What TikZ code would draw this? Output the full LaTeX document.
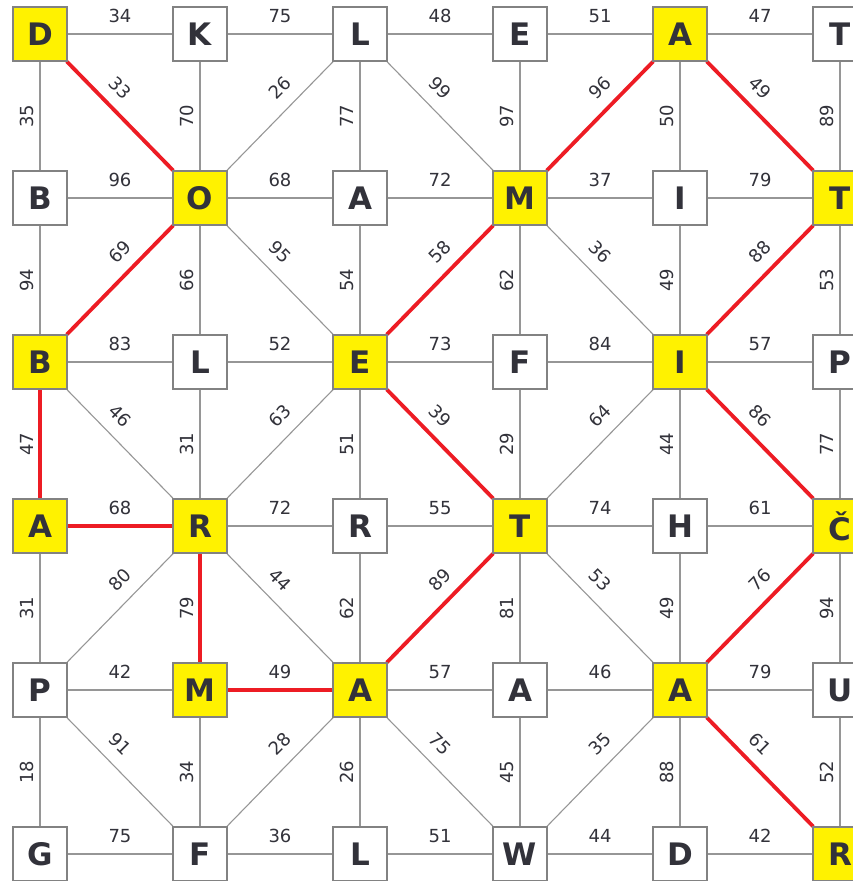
\documentclass[tikz,border=0pt]{standalone}
\usepackage{fontspec}
\setmainfont{DejaVu Sans}
\usetikzlibrary{backgrounds}
\definecolor{pathred}{RGB}{237,28,36}
\definecolor{hityellow}{RGB}{255,242,0}
\definecolor{gridgray}{RGB}{150,150,150}
\definecolor{boxgray}{RGB}{130,130,130}
\definecolor{inkgray}{RGB}{50,50,58}

\begin{document}
\begin{tikzpicture}[
    x=1pt, y=-1pt,
    letter/.style={rectangle, draw=boxgray, line width=1.2pt, fill=white, minimum size=54pt, inner sep=0pt, text=inkgray, font=\fontsize{31}{31}\selectfont\bfseries},
    hit/.style={letter, fill=hityellow},
    edge/.style={-, draw=gridgray, line width=1.1pt},
    path_edge/.style={-, draw=pathred, line width=3.8pt, line cap=round},
    wlab/.style={text=inkgray, font=\fontsize{18}{18}\selectfont, inner sep=0pt},
    hlab/.style={wlab, yshift=18pt},
    vlab/.style={wlab, xshift=-13pt, rotate=90},
    dlab/.style={wlab, yshift=28pt, rotate=-45},
    ulab/.style={wlab, yshift=28pt, rotate=45},
]
\useasboundingbox (0,0) rectangle (852,881);

% Row 1
\node[hit]    (n11) at (40,34)  {D};
\node[letter] (n12) at (200,34) {K};
\node[letter] (n13) at (360,34) {L};
\node[letter] (n14) at (520,34) {E};
\node[hit]    (n15) at (680,34) {A};
\node[letter] (n16) at (840,34) {T};

% Row 2
\node[letter] (n21) at (40,198)  {B};
\node[hit]    (n22) at (200,198) {O};
\node[letter] (n23) at (360,198) {A};
\node[hit]    (n24) at (520,198) {M};
\node[letter] (n25) at (680,198) {I};
\node[hit]    (n26) at (840,198) {T};

% Row 3
\node[hit]    (n31) at (40,362)  {B};
\node[letter] (n32) at (200,362) {L};
\node[hit]    (n33) at (360,362) {E};
\node[letter] (n34) at (520,362) {F};
\node[hit]    (n35) at (680,362) {I};
\node[letter] (n36) at (840,362) {P};

% Row 4
\node[hit]    (n41) at (40,526)  {A};
\node[hit]    (n42) at (200,526) {R};
\node[letter] (n43) at (360,526) {R};
\node[hit]    (n44) at (520,526) {T};
\node[letter] (n45) at (680,526) {H};
\node[hit]    (n46) at (840,526) {Č};

% Row 5
\node[letter] (n51) at (40,690)  {P};
\node[hit]    (n52) at (200,690) {M};
\node[hit]    (n53) at (360,690) {A};
\node[letter] (n54) at (520,690) {A};
\node[hit]    (n55) at (680,690) {A};
\node[letter] (n56) at (840,690) {U};

% Row 6
\node[letter] (n61) at (40,854)  {G};
\node[letter] (n62) at (200,854) {F};
\node[letter] (n63) at (360,854) {L};
\node[letter] (n64) at (520,854) {W};
\node[letter] (n65) at (680,854) {D};
\node[hit]    (n66) at (840,854) {R};

\begin{scope}[on background layer]
% Horizontal weights
\draw[edge] (n11) -- node[hlab]{34} (n12) -- node[hlab]{75} (n13) -- node[hlab]{48} (n14) -- node[hlab]{51} (n15) -- node[hlab]{47} (n16);
\draw[edge] (n21) -- node[hlab]{96} (n22) -- node[hlab]{68} (n23) -- node[hlab]{72} (n24) -- node[hlab]{37} (n25) -- node[hlab]{79} (n26);
\draw[edge] (n31) -- node[hlab]{83} (n32) -- node[hlab]{52} (n33) -- node[hlab]{73} (n34) -- node[hlab]{84} (n35) -- node[hlab]{57} (n36);
\draw[path_edge] (n41) -- node[hlab]{68} (n42);
\draw[edge] (n42) -- node[hlab]{72} (n43) -- node[hlab]{55} (n44) -- node[hlab]{74} (n45) -- node[hlab]{61} (n46);
\draw[edge] (n51) -- node[hlab]{42} (n52);
\draw[path_edge] (n52) -- node[hlab]{49} (n53);
\draw[edge] (n53) -- node[hlab]{57} (n54) -- node[hlab]{46} (n55) -- node[hlab]{79} (n56);
\draw[edge] (n61) -- node[hlab]{75} (n62) -- node[hlab]{36} (n63) -- node[hlab]{51} (n64) -- node[hlab]{44} (n65) -- node[hlab]{42} (n66);

% Vertical weights
\draw[edge] (n11) -- node[vlab]{35} (n21) -- node[vlab]{94} (n31);
\draw[path_edge] (n31) -- node[vlab]{47} (n41);
\draw[edge] (n41) -- node[vlab]{31} (n51) -- node[vlab]{18} (n61);
\draw[edge] (n12) -- node[vlab]{70} (n22) -- node[vlab]{66} (n32) -- node[vlab]{31} (n42);
\draw[path_edge] (n42) -- node[vlab]{79} (n52);
\draw[edge] (n52) -- node[vlab]{34} (n62);
\draw[edge] (n13) -- node[vlab]{77} (n23) -- node[vlab]{54} (n33) -- node[vlab]{51} (n43) -- node[vlab]{62} (n53) -- node[vlab]{26} (n63);
\draw[edge] (n14) -- node[vlab]{97} (n24) -- node[vlab]{62} (n34) -- node[vlab]{29} (n44) -- node[vlab]{81} (n54) -- node[vlab]{45} (n64);
\draw[edge] (n15) -- node[vlab]{50} (n25) -- node[vlab]{49} (n35) -- node[vlab]{44} (n45) -- node[vlab]{49} (n55) -- node[vlab]{88} (n65);
\draw[edge] (n16) -- node[vlab]{89} (n26) -- node[vlab]{53} (n36) -- node[vlab]{77} (n46) -- node[vlab]{94} (n56) -- node[vlab]{52} (n66);

% Diagonals, rows 1-2
\draw[path_edge] (n11) -- node[dlab]{33} (n22);
\draw[edge] (n22) -- node[ulab]{26} (n13);
\draw[edge] (n13) -- node[dlab]{99} (n24);
\draw[path_edge] (n24) -- node[ulab]{96} (n15);
\draw[path_edge] (n15) -- node[dlab]{49} (n26);

% Diagonals, rows 2-3
\draw[path_edge] (n31) -- node[ulab]{69} (n22);
\draw[edge] (n22) -- node[dlab]{95} (n33);
\draw[path_edge] (n33) -- node[ulab]{58} (n24);
\draw[edge] (n24) -- node[dlab]{36} (n35);
\draw[path_edge] (n35) -- node[ulab]{88} (n26);

% Diagonals, rows 3-4
\draw[edge] (n31) -- node[dlab]{46} (n42);
\draw[edge] (n42) -- node[ulab]{63} (n33);
\draw[path_edge] (n33) -- node[dlab]{39} (n44);
\draw[edge] (n44) -- node[ulab]{64} (n35);
\draw[path_edge] (n35) -- node[dlab]{86} (n46);

% Diagonals, rows 4-5
\draw[edge] (n51) -- node[ulab]{80} (n42);
\draw[edge] (n42) -- node[dlab]{44} (n53);
\draw[path_edge] (n53) -- node[ulab]{89} (n44);
\draw[edge] (n44) -- node[dlab]{53} (n55);
\draw[path_edge] (n55) -- node[ulab]{76} (n46);

% Diagonals, rows 5-6
\draw[edge] (n51) -- node[dlab]{91} (n62);
\draw[edge] (n62) -- node[ulab]{28} (n53);
\draw[edge] (n53) -- node[dlab]{75} (n64);
\draw[edge] (n64) -- node[ulab]{35} (n55);
\draw[path_edge] (n55) -- node[dlab]{61} (n66);
\end{scope}

\end{tikzpicture}
\end{document}
